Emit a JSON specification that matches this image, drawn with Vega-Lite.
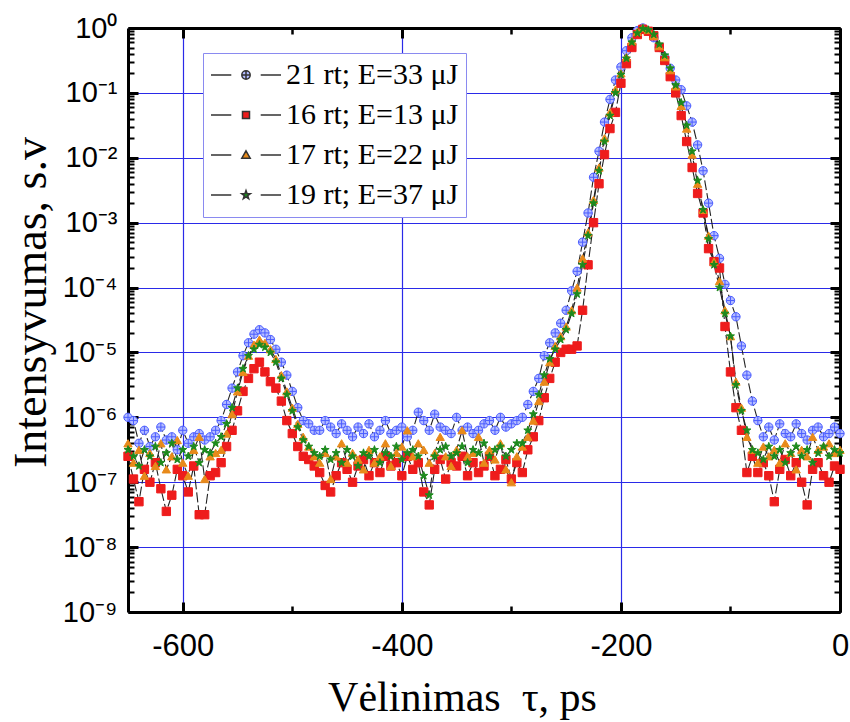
{
"$schema":"https://vega.github.io/schema/vega-lite/v6.json",
"autosize":{"type":"none"},
"padding":{"left":128,"top":28,"right":10,"bottom":110},
"width":712,"height":584,
"background":"white",
"config":{"view":{"stroke":null},"axis":{"labelColor":"black","titleColor":"black","labelFlush":false,"labelOverlap":false,"labelBound":false}},
"datasets":{
"series":[{"s":"a","label":"21 rt; E=33 μJ"},{"s":"b","label":"16 rt; E=13 μJ"},{"s":"c","label":"17 rt; E=22 μJ"},{"s":"d","label":"19 rt; E=37 μJ"}],
"pts":[
{"s":"a","x":-650,"y":1e-6},{"s":"a","x":-645,"y":8.91e-7},{"s":"a","x":-640,"y":3.98e-7},{"s":"a","x":-635,"y":6.31e-7},{"s":"a","x":-630,"y":3.55e-7},{"s":"a","x":-625,"y":5.01e-7},{"s":"a","x":-620,"y":7.08e-7},{"s":"a","x":-615,"y":4.47e-7},{"s":"a","x":-610,"y":5.01e-7},{"s":"a","x":-605,"y":3.16e-7},{"s":"a","x":-600,"y":6.31e-7},{"s":"a","x":-595,"y":3.98e-7},{"s":"a","x":-590,"y":5.01e-7},{"s":"a","x":-585,"y":5.62e-7},{"s":"a","x":-580,"y":4.47e-7},{"s":"a","x":-575,"y":5.01e-7},{"s":"a","x":-570,"y":6.31e-7},{"s":"a","x":-565,"y":8.91e-7},{"s":"a","x":-560,"y":1.58e-6},{"s":"a","x":-555,"y":2.82e-6},{"s":"a","x":-550,"y":5.01e-6},{"s":"a","x":-545,"y":8.91e-6},{"s":"a","x":-540,"y":1.41e-5},{"s":"a","x":-535,"y":1.91e-5},{"s":"a","x":-530,"y":2.24e-5},{"s":"a","x":-525,"y":2e-5},{"s":"a","x":-520,"y":1.58e-5},{"s":"a","x":-515,"y":1.12e-5},{"s":"a","x":-510,"y":7.08e-6},{"s":"a","x":-505,"y":4.47e-6},{"s":"a","x":-500,"y":2.51e-6},{"s":"a","x":-495,"y":1.41e-6},{"s":"a","x":-490,"y":8.91e-7},{"s":"a","x":-485,"y":7.94e-7},{"s":"a","x":-480,"y":6.31e-7},{"s":"a","x":-475,"y":6.31e-7},{"s":"a","x":-470,"y":8.91e-7},{"s":"a","x":-465,"y":7.08e-7},{"s":"a","x":-460,"y":5.62e-7},{"s":"a","x":-455,"y":7.94e-7},{"s":"a","x":-450,"y":6.31e-7},{"s":"a","x":-445,"y":5.01e-7},{"s":"a","x":-440,"y":7.08e-7},{"s":"a","x":-435,"y":5.62e-7},{"s":"a","x":-430,"y":7.94e-7},{"s":"a","x":-425,"y":5.01e-7},{"s":"a","x":-420,"y":6.31e-7},{"s":"a","x":-415,"y":8.91e-7},{"s":"a","x":-410,"y":5.62e-7},{"s":"a","x":-405,"y":6.31e-7},{"s":"a","x":-400,"y":7.08e-7},{"s":"a","x":-395,"y":5.01e-7},{"s":"a","x":-390,"y":6.31e-7},{"s":"a","x":-385,"y":1.2e-6},{"s":"a","x":-380,"y":8.91e-7},{"s":"a","x":-375,"y":6.31e-7},{"s":"a","x":-370,"y":1.12e-6},{"s":"a","x":-365,"y":7.08e-7},{"s":"a","x":-360,"y":6.31e-7},{"s":"a","x":-355,"y":5.62e-7},{"s":"a","x":-350,"y":1e-6},{"s":"a","x":-345,"y":6.31e-7},{"s":"a","x":-340,"y":7.08e-7},{"s":"a","x":-335,"y":5.62e-7},{"s":"a","x":-330,"y":6.31e-7},{"s":"a","x":-325,"y":7.94e-7},{"s":"a","x":-320,"y":8.91e-7},{"s":"a","x":-315,"y":6.31e-7},{"s":"a","x":-310,"y":1e-6},{"s":"a","x":-305,"y":7.08e-7},{"s":"a","x":-300,"y":7.94e-7},{"s":"a","x":-295,"y":8.91e-7},{"s":"a","x":-290,"y":1e-6},{"s":"a","x":-285,"y":1.58e-6},{"s":"a","x":-280,"y":2.51e-6},{"s":"a","x":-275,"y":3.98e-6},{"s":"a","x":-270,"y":8.91e-6},{"s":"a","x":-265,"y":1.41e-5},{"s":"a","x":-260,"y":2e-5},{"s":"a","x":-255,"y":2.82e-5},{"s":"a","x":-250,"y":4.47e-5},{"s":"a","x":-245,"y":8.91e-5},{"s":"a","x":-240,"y":1.78e-4},{"s":"a","x":-235,"y":5.01e-4},{"s":"a","x":-230,"y":1.41e-3},{"s":"a","x":-225,"y":5.01e-3},{"s":"a","x":-220,"y":1.26e-2},{"s":"a","x":-215,"y":3.55e-2},{"s":"a","x":-210,"y":7.94e-2},{"s":"a","x":-205,"y":0.158},{"s":"a","x":-200,"y":0.251},{"s":"a","x":-195,"y":0.447},{"s":"a","x":-190,"y":0.708},{"s":"a","x":-185,"y":0.912},{"s":"a","x":-180,"y":1},{"s":"a","x":-175,"y":0.891},{"s":"a","x":-170,"y":0.708},{"s":"a","x":-165,"y":0.501},{"s":"a","x":-160,"y":0.355},{"s":"a","x":-155,"y":0.24},{"s":"a","x":-150,"y":0.158},{"s":"a","x":-145,"y":0.112},{"s":"a","x":-140,"y":0.0631},{"s":"a","x":-135,"y":0.0355},{"s":"a","x":-130,"y":0.0158},{"s":"a","x":-125,"y":6.31e-3},{"s":"a","x":-120,"y":2e-3},{"s":"a","x":-115,"y":6.31e-4},{"s":"a","x":-110,"y":2.82e-4},{"s":"a","x":-105,"y":1.12e-4},{"s":"a","x":-100,"y":6.31e-5},{"s":"a","x":-95,"y":3.55e-5},{"s":"a","x":-90,"y":1.26e-5},{"s":"a","x":-85,"y":4.47e-6},{"s":"a","x":-80,"y":1.78e-6},{"s":"a","x":-75,"y":8.91e-7},{"s":"a","x":-70,"y":5.01e-7},{"s":"a","x":-65,"y":7.08e-7},{"s":"a","x":-60,"y":4.47e-7},{"s":"a","x":-55,"y":7.94e-7},{"s":"a","x":-50,"y":5.62e-7},{"s":"a","x":-45,"y":5.01e-7},{"s":"a","x":-40,"y":7.94e-7},{"s":"a","x":-35,"y":5.62e-7},{"s":"a","x":-30,"y":4.47e-7},{"s":"a","x":-25,"y":6.31e-7},{"s":"a","x":-20,"y":7.08e-7},{"s":"a","x":-15,"y":5.01e-7},{"s":"a","x":-10,"y":5.62e-7},{"s":"a","x":-5,"y":7.08e-7},{"s":"a","x":0,"y":5.62e-7},
{"s":"b","x":-650,"y":2.51e-7},{"s":"b","x":-645,"y":1.12e-7},{"s":"b","x":-640,"y":5.01e-8},{"s":"b","x":-635,"y":1.58e-7},{"s":"b","x":-630,"y":1e-7},{"s":"b","x":-625,"y":2e-7},{"s":"b","x":-620,"y":7.94e-8},{"s":"b","x":-615,"y":3.55e-8},{"s":"b","x":-610,"y":6.31e-8},{"s":"b","x":-605,"y":1.58e-7},{"s":"b","x":-600,"y":1.26e-7},{"s":"b","x":-595,"y":7.08e-8},{"s":"b","x":-590,"y":1.78e-7},{"s":"b","x":-585,"y":3.16e-8},{"s":"b","x":-580,"y":3.16e-8},{"s":"b","x":-575,"y":1.26e-7},{"s":"b","x":-570,"y":1.41e-7},{"s":"b","x":-565,"y":2e-7},{"s":"b","x":-560,"y":3.55e-7},{"s":"b","x":-555,"y":6.31e-7},{"s":"b","x":-550,"y":1.26e-6},{"s":"b","x":-545,"y":2.51e-6},{"s":"b","x":-540,"y":3.98e-6},{"s":"b","x":-535,"y":5.62e-6},{"s":"b","x":-530,"y":7.08e-6},{"s":"b","x":-525,"y":5.01e-6},{"s":"b","x":-520,"y":3.55e-6},{"s":"b","x":-515,"y":2.82e-6},{"s":"b","x":-510,"y":1.78e-6},{"s":"b","x":-505,"y":8.91e-7},{"s":"b","x":-500,"y":5.62e-7},{"s":"b","x":-495,"y":3.55e-7},{"s":"b","x":-490,"y":2.51e-7},{"s":"b","x":-485,"y":2.24e-7},{"s":"b","x":-480,"y":1.78e-7},{"s":"b","x":-475,"y":1.41e-7},{"s":"b","x":-470,"y":8.91e-8},{"s":"b","x":-465,"y":7.08e-8},{"s":"b","x":-460,"y":1.26e-7},{"s":"b","x":-455,"y":2e-7},{"s":"b","x":-450,"y":1.58e-7},{"s":"b","x":-445,"y":1e-7},{"s":"b","x":-440,"y":1.78e-7},{"s":"b","x":-435,"y":2.24e-7},{"s":"b","x":-430,"y":1.26e-7},{"s":"b","x":-425,"y":2e-7},{"s":"b","x":-420,"y":1.41e-7},{"s":"b","x":-415,"y":2.51e-7},{"s":"b","x":-410,"y":1.78e-7},{"s":"b","x":-405,"y":2e-7},{"s":"b","x":-400,"y":1.26e-7},{"s":"b","x":-395,"y":2.51e-7},{"s":"b","x":-390,"y":1.58e-7},{"s":"b","x":-385,"y":2e-7},{"s":"b","x":-380,"y":7.08e-8},{"s":"b","x":-375,"y":4.47e-8},{"s":"b","x":-370,"y":1.58e-7},{"s":"b","x":-365,"y":2.24e-7},{"s":"b","x":-360,"y":1.12e-7},{"s":"b","x":-355,"y":2e-7},{"s":"b","x":-350,"y":1.78e-7},{"s":"b","x":-345,"y":2.51e-7},{"s":"b","x":-340,"y":1.26e-7},{"s":"b","x":-335,"y":2e-7},{"s":"b","x":-330,"y":1.41e-7},{"s":"b","x":-325,"y":1.78e-7},{"s":"b","x":-320,"y":2.51e-7},{"s":"b","x":-315,"y":1.26e-7},{"s":"b","x":-310,"y":1.58e-7},{"s":"b","x":-305,"y":2.24e-7},{"s":"b","x":-300,"y":1.12e-7},{"s":"b","x":-295,"y":2e-7},{"s":"b","x":-290,"y":1.41e-7},{"s":"b","x":-285,"y":3.16e-7},{"s":"b","x":-280,"y":5.01e-7},{"s":"b","x":-275,"y":8.91e-7},{"s":"b","x":-270,"y":2e-6},{"s":"b","x":-265,"y":3.98e-6},{"s":"b","x":-260,"y":7.08e-6},{"s":"b","x":-255,"y":1e-5},{"s":"b","x":-250,"y":1.12e-5},{"s":"b","x":-245,"y":1.12e-5},{"s":"b","x":-240,"y":1.26e-5},{"s":"b","x":-235,"y":4.47e-5},{"s":"b","x":-230,"y":2.24e-4},{"s":"b","x":-225,"y":1e-3},{"s":"b","x":-220,"y":3.98e-3},{"s":"b","x":-215,"y":1.12e-2},{"s":"b","x":-210,"y":2.82e-2},{"s":"b","x":-205,"y":5.01e-2},{"s":"b","x":-200,"y":0.141},{"s":"b","x":-195,"y":0.282},{"s":"b","x":-190,"y":0.501},{"s":"b","x":-185,"y":0.794},{"s":"b","x":-180,"y":0.955},{"s":"b","x":-175,"y":0.891},{"s":"b","x":-170,"y":0.759},{"s":"b","x":-165,"y":0.501},{"s":"b","x":-160,"y":0.316},{"s":"b","x":-155,"y":0.178},{"s":"b","x":-150,"y":0.1},{"s":"b","x":-145,"y":0.0447},{"s":"b","x":-140,"y":0.0178},{"s":"b","x":-135,"y":7.08e-3},{"s":"b","x":-130,"y":2.82e-3},{"s":"b","x":-125,"y":1.41e-3},{"s":"b","x":-120,"y":3.98e-4},{"s":"b","x":-115,"y":2.51e-4},{"s":"b","x":-110,"y":2e-4},{"s":"b","x":-105,"y":2.51e-5},{"s":"b","x":-100,"y":5.01e-6},{"s":"b","x":-95,"y":1.41e-6},{"s":"b","x":-90,"y":6.31e-7},{"s":"b","x":-85,"y":1.41e-7},{"s":"b","x":-80,"y":2.51e-7},{"s":"b","x":-75,"y":1.41e-7},{"s":"b","x":-70,"y":2e-7},{"s":"b","x":-65,"y":1.26e-7},{"s":"b","x":-60,"y":5.01e-8},{"s":"b","x":-55,"y":1.58e-7},{"s":"b","x":-50,"y":2.24e-7},{"s":"b","x":-45,"y":1.26e-7},{"s":"b","x":-40,"y":2e-7},{"s":"b","x":-35,"y":1e-7},{"s":"b","x":-30,"y":4.47e-8},{"s":"b","x":-25,"y":1.58e-7},{"s":"b","x":-20,"y":2e-7},{"s":"b","x":-15,"y":1.26e-7},{"s":"b","x":-10,"y":1e-7},{"s":"b","x":-5,"y":1.78e-7},{"s":"b","x":0,"y":1.58e-7},
{"s":"c","x":-650,"y":3.98e-7},{"s":"c","x":-645,"y":2e-7},{"s":"c","x":-640,"y":3.16e-7},{"s":"c","x":-635,"y":1.26e-7},{"s":"c","x":-630,"y":2.82e-7},{"s":"c","x":-625,"y":1.78e-7},{"s":"c","x":-620,"y":3.98e-7},{"s":"c","x":-615,"y":1.58e-7},{"s":"c","x":-610,"y":2.51e-7},{"s":"c","x":-605,"y":4.47e-7},{"s":"c","x":-600,"y":2e-7},{"s":"c","x":-595,"y":1.26e-7},{"s":"c","x":-590,"y":3.16e-7},{"s":"c","x":-585,"y":5.01e-7},{"s":"c","x":-580,"y":1.12e-7},{"s":"c","x":-575,"y":2.51e-7},{"s":"c","x":-570,"y":2.82e-7},{"s":"c","x":-565,"y":3.16e-7},{"s":"c","x":-560,"y":5.62e-7},{"s":"c","x":-555,"y":1.12e-6},{"s":"c","x":-550,"y":2.51e-6},{"s":"c","x":-545,"y":5.01e-6},{"s":"c","x":-540,"y":8.91e-6},{"s":"c","x":-535,"y":1.32e-5},{"s":"c","x":-530,"y":1.58e-5},{"s":"c","x":-525,"y":1.41e-5},{"s":"c","x":-520,"y":1.12e-5},{"s":"c","x":-515,"y":7.94e-6},{"s":"c","x":-510,"y":4.47e-6},{"s":"c","x":-505,"y":2.51e-6},{"s":"c","x":-500,"y":1.41e-6},{"s":"c","x":-495,"y":7.94e-7},{"s":"c","x":-490,"y":5.01e-7},{"s":"c","x":-485,"y":3.55e-7},{"s":"c","x":-480,"y":2.51e-7},{"s":"c","x":-475,"y":2e-7},{"s":"c","x":-470,"y":2.82e-7},{"s":"c","x":-465,"y":1.12e-7},{"s":"c","x":-460,"y":2.51e-7},{"s":"c","x":-455,"y":3.98e-7},{"s":"c","x":-450,"y":2e-7},{"s":"c","x":-445,"y":2.82e-7},{"s":"c","x":-440,"y":2.24e-7},{"s":"c","x":-435,"y":1.58e-7},{"s":"c","x":-430,"y":3.16e-7},{"s":"c","x":-425,"y":2e-7},{"s":"c","x":-420,"y":2.51e-7},{"s":"c","x":-415,"y":3.98e-7},{"s":"c","x":-410,"y":1.78e-7},{"s":"c","x":-405,"y":2.82e-7},{"s":"c","x":-400,"y":3.55e-7},{"s":"c","x":-395,"y":6.31e-7},{"s":"c","x":-390,"y":2.51e-7},{"s":"c","x":-385,"y":3.98e-7},{"s":"c","x":-380,"y":3.16e-7},{"s":"c","x":-375,"y":2e-7},{"s":"c","x":-370,"y":2.82e-7},{"s":"c","x":-365,"y":5.01e-7},{"s":"c","x":-360,"y":2.51e-7},{"s":"c","x":-355,"y":1.78e-7},{"s":"c","x":-350,"y":3.16e-7},{"s":"c","x":-345,"y":6.31e-7},{"s":"c","x":-340,"y":2.51e-7},{"s":"c","x":-335,"y":2.82e-7},{"s":"c","x":-330,"y":5.01e-7},{"s":"c","x":-325,"y":2e-7},{"s":"c","x":-320,"y":3.16e-7},{"s":"c","x":-315,"y":2.24e-7},{"s":"c","x":-310,"y":3.98e-7},{"s":"c","x":-305,"y":1.58e-7},{"s":"c","x":-300,"y":1e-7},{"s":"c","x":-295,"y":2.51e-7},{"s":"c","x":-290,"y":3.55e-7},{"s":"c","x":-285,"y":5.01e-7},{"s":"c","x":-280,"y":8.91e-7},{"s":"c","x":-275,"y":1.78e-6},{"s":"c","x":-270,"y":3.55e-6},{"s":"c","x":-265,"y":7.08e-6},{"s":"c","x":-260,"y":1.26e-5},{"s":"c","x":-255,"y":1.78e-5},{"s":"c","x":-250,"y":2.51e-5},{"s":"c","x":-245,"y":4.47e-5},{"s":"c","x":-240,"y":1e-4},{"s":"c","x":-235,"y":2.82e-4},{"s":"c","x":-230,"y":7.08e-4},{"s":"c","x":-225,"y":2.24e-3},{"s":"c","x":-220,"y":7.08e-3},{"s":"c","x":-215,"y":2e-2},{"s":"c","x":-210,"y":5.01e-2},{"s":"c","x":-205,"y":0.112},{"s":"c","x":-200,"y":0.2},{"s":"c","x":-195,"y":0.355},{"s":"c","x":-190,"y":0.631},{"s":"c","x":-185,"y":0.871},{"s":"c","x":-180,"y":1},{"s":"c","x":-175,"y":0.933},{"s":"c","x":-170,"y":0.759},{"s":"c","x":-165,"y":0.525},{"s":"c","x":-160,"y":0.355},{"s":"c","x":-155,"y":0.224},{"s":"c","x":-150,"y":0.126},{"s":"c","x":-145,"y":0.0631},{"s":"c","x":-140,"y":0.0282},{"s":"c","x":-135,"y":0.0112},{"s":"c","x":-130,"y":3.98e-3},{"s":"c","x":-125,"y":1.58e-3},{"s":"c","x":-120,"y":6.31e-4},{"s":"c","x":-115,"y":2.51e-4},{"s":"c","x":-110,"y":1.26e-4},{"s":"c","x":-105,"y":4.47e-5},{"s":"c","x":-100,"y":1.78e-5},{"s":"c","x":-95,"y":3.55e-6},{"s":"c","x":-90,"y":1.41e-6},{"s":"c","x":-85,"y":5.01e-7},{"s":"c","x":-80,"y":3.16e-7},{"s":"c","x":-75,"y":2e-7},{"s":"c","x":-70,"y":3.55e-7},{"s":"c","x":-65,"y":2.51e-7},{"s":"c","x":-60,"y":3.16e-7},{"s":"c","x":-55,"y":2e-7},{"s":"c","x":-50,"y":3.98e-7},{"s":"c","x":-45,"y":2.82e-7},{"s":"c","x":-40,"y":1.58e-7},{"s":"c","x":-35,"y":3.16e-7},{"s":"c","x":-30,"y":2.51e-7},{"s":"c","x":-25,"y":5.01e-7},{"s":"c","x":-20,"y":3.16e-7},{"s":"c","x":-15,"y":3.55e-7},{"s":"c","x":-10,"y":3.98e-7},{"s":"c","x":-5,"y":2.82e-7},{"s":"c","x":0,"y":3.16e-7},
{"s":"d","x":-650,"y":3.16e-7},{"s":"d","x":-645,"y":2.51e-7},{"s":"d","x":-640,"y":1.78e-7},{"s":"d","x":-635,"y":3.16e-7},{"s":"d","x":-630,"y":2.51e-7},{"s":"d","x":-625,"y":3.55e-7},{"s":"d","x":-620,"y":2e-7},{"s":"d","x":-615,"y":2.82e-7},{"s":"d","x":-610,"y":3.98e-7},{"s":"d","x":-605,"y":2.24e-7},{"s":"d","x":-600,"y":3.16e-7},{"s":"d","x":-595,"y":2.51e-7},{"s":"d","x":-590,"y":3.55e-7},{"s":"d","x":-585,"y":2e-7},{"s":"d","x":-580,"y":3.16e-7},{"s":"d","x":-575,"y":2.82e-7},{"s":"d","x":-570,"y":3.98e-7},{"s":"d","x":-565,"y":5.01e-7},{"s":"d","x":-560,"y":7.94e-7},{"s":"d","x":-555,"y":1.41e-6},{"s":"d","x":-550,"y":2.82e-6},{"s":"d","x":-545,"y":5.62e-6},{"s":"d","x":-540,"y":8.91e-6},{"s":"d","x":-535,"y":1.12e-5},{"s":"d","x":-530,"y":1.32e-5},{"s":"d","x":-525,"y":1.2e-5},{"s":"d","x":-520,"y":1e-5},{"s":"d","x":-515,"y":7.08e-6},{"s":"d","x":-510,"y":3.98e-6},{"s":"d","x":-505,"y":2.24e-6},{"s":"d","x":-500,"y":1.26e-6},{"s":"d","x":-495,"y":7.08e-7},{"s":"d","x":-490,"y":4.47e-7},{"s":"d","x":-485,"y":3.55e-7},{"s":"d","x":-480,"y":2.82e-7},{"s":"d","x":-475,"y":2.51e-7},{"s":"d","x":-470,"y":3.16e-7},{"s":"d","x":-465,"y":2.24e-7},{"s":"d","x":-460,"y":2.82e-7},{"s":"d","x":-455,"y":2e-7},{"s":"d","x":-450,"y":3.16e-7},{"s":"d","x":-445,"y":2.51e-7},{"s":"d","x":-440,"y":1.78e-7},{"s":"d","x":-435,"y":2.82e-7},{"s":"d","x":-430,"y":2.51e-7},{"s":"d","x":-425,"y":3.16e-7},{"s":"d","x":-420,"y":2e-7},{"s":"d","x":-415,"y":2.82e-7},{"s":"d","x":-410,"y":2.51e-7},{"s":"d","x":-405,"y":3.55e-7},{"s":"d","x":-400,"y":2.24e-7},{"s":"d","x":-395,"y":2.82e-7},{"s":"d","x":-390,"y":3.16e-7},{"s":"d","x":-385,"y":2.51e-7},{"s":"d","x":-380,"y":1.26e-7},{"s":"d","x":-375,"y":6.31e-8},{"s":"d","x":-370,"y":2.51e-7},{"s":"d","x":-365,"y":3.16e-7},{"s":"d","x":-360,"y":3.55e-7},{"s":"d","x":-355,"y":2.51e-7},{"s":"d","x":-350,"y":2.82e-7},{"s":"d","x":-345,"y":3.55e-7},{"s":"d","x":-340,"y":2e-7},{"s":"d","x":-335,"y":3.16e-7},{"s":"d","x":-330,"y":2.82e-7},{"s":"d","x":-325,"y":3.98e-7},{"s":"d","x":-320,"y":2.51e-7},{"s":"d","x":-315,"y":3.16e-7},{"s":"d","x":-310,"y":3.55e-7},{"s":"d","x":-305,"y":2.51e-7},{"s":"d","x":-300,"y":3.16e-7},{"s":"d","x":-295,"y":3.98e-7},{"s":"d","x":-290,"y":3.98e-7},{"s":"d","x":-285,"y":6.31e-7},{"s":"d","x":-280,"y":1.12e-6},{"s":"d","x":-275,"y":2.24e-6},{"s":"d","x":-270,"y":4.47e-6},{"s":"d","x":-265,"y":7.94e-6},{"s":"d","x":-260,"y":1.12e-5},{"s":"d","x":-255,"y":1.58e-5},{"s":"d","x":-250,"y":2.24e-5},{"s":"d","x":-245,"y":3.98e-5},{"s":"d","x":-240,"y":7.94e-5},{"s":"d","x":-235,"y":2.24e-4},{"s":"d","x":-230,"y":6.31e-4},{"s":"d","x":-225,"y":2e-3},{"s":"d","x":-220,"y":6.31e-3},{"s":"d","x":-215,"y":1.78e-2},{"s":"d","x":-210,"y":4.47e-2},{"s":"d","x":-205,"y":0.1},{"s":"d","x":-200,"y":0.191},{"s":"d","x":-195,"y":0.339},{"s":"d","x":-190,"y":0.603},{"s":"d","x":-185,"y":0.832},{"s":"d","x":-180,"y":0.977},{"s":"d","x":-175,"y":0.933},{"s":"d","x":-170,"y":0.794},{"s":"d","x":-165,"y":0.562},{"s":"d","x":-160,"y":0.38},{"s":"d","x":-155,"y":0.24},{"s":"d","x":-150,"y":0.132},{"s":"d","x":-145,"y":0.0708},{"s":"d","x":-140,"y":0.0316},{"s":"d","x":-135,"y":0.0126},{"s":"d","x":-130,"y":4.47e-3},{"s":"d","x":-125,"y":1.58e-3},{"s":"d","x":-120,"y":5.62e-4},{"s":"d","x":-115,"y":2.24e-4},{"s":"d","x":-110,"y":1e-4},{"s":"d","x":-105,"y":3.98e-5},{"s":"d","x":-100,"y":1.78e-5},{"s":"d","x":-95,"y":3.16e-6},{"s":"d","x":-90,"y":1.26e-6},{"s":"d","x":-85,"y":6.31e-7},{"s":"d","x":-80,"y":3.16e-7},{"s":"d","x":-75,"y":2.82e-7},{"s":"d","x":-70,"y":2.24e-7},{"s":"d","x":-65,"y":3.55e-7},{"s":"d","x":-60,"y":2.51e-7},{"s":"d","x":-55,"y":3.16e-7},{"s":"d","x":-50,"y":2e-7},{"s":"d","x":-45,"y":2.82e-7},{"s":"d","x":-40,"y":3.55e-7},{"s":"d","x":-35,"y":2.51e-7},{"s":"d","x":-30,"y":3.16e-7},{"s":"d","x":-25,"y":2e-7},{"s":"d","x":-20,"y":2.82e-7},{"s":"d","x":-15,"y":3.55e-7},{"s":"d","x":-10,"y":2.51e-7},{"s":"d","x":-5,"y":3.16e-7},{"s":"d","x":0,"y":2.82e-7}
]},
"data":{"name":"pts"},
"transform":[{"lookup":"s","from":{"data":{"name":"series"},"key":"s","fields":["label"]}}],
"resolve":{"scale":{"shape":"independent","fill":"independent","stroke":"independent"},"axis":{"x":"independent","y":"independent"}},
"layer":[
{"mark":{"type":"line","stroke":"#222222","strokeWidth":1.1,"strokeDash":[10,3]},
 "encoding":{
  "detail":{"field":"s","type":"nominal"},
  "x":{"field":"x","type":"quantitative","scale":{"domain":[-650,0],"nice":false,"zero":false},
   "axis":{"orient":"bottom","values":[-600,-400,-200,0],"grid":true,"gridColor":"#2a2ae8","gridWidth":1.2,"tickSize":-10,"tickWidth":3,"tickColor":"black","domain":true,"domainWidth":3,"domainColor":"black","labelFont":"Liberation Sans","labelFontSize":31,"labelPadding":29,"labelExpr":"datum.value == 0 ? '0' : '-' + abs(datum.value)","title":"Vėlinimas\u00a0 τ, ps","titleFont":"Liberation Serif","titleFontSize":42,"titleFontWeight":"normal","titleX":334,"titleY":98,"titleBaseline":"alphabetic"}},
  "y":{"field":"y","type":"quantitative","scale":{"type":"log","domain":[1e-9,1],"nice":false},
   "axis":{"orient":"left","values":[1e-9,1e-8,1e-7,1e-6,1e-5,1e-4,0.001,0.01,0.1,1],"grid":true,"gridColor":"#2a2ae8","gridWidth":1.2,"tickSize":-10,"tickWidth":3,"tickColor":"black","domain":true,"domainWidth":3,"domainColor":"black","labelFont":"Liberation Sans","labelFontSize":29,"labelPadding":21,"labelExpr":"'10' + ['⁰','⁻¹','⁻²','⁻³','⁻⁴','⁻⁵','⁻⁶','⁻⁷','⁻⁸','⁻⁹'][round(-log(datum.value)/LN10)]","title":"Intensyvumas, s.v","titleFont":"Liberation Serif","titleFontSize":46,"titleFontWeight":"normal","titleX":-83,"titleY":274,"titleBaseline":"alphabetic","titleAngle":270}}
 }},
{"mark":{"type":"point","filled":true,"opacity":1,"size":70,"strokeWidth":1},
 "encoding":{
  "x":{"field":"x","type":"quantitative","scale":{"domain":[-650,0],"nice":false,"zero":false},
   "axis":{"orient":"top","values":[-600,-400,-200,0],"grid":false,"labels":false,"tickSize":-10,"tickWidth":3,"tickColor":"black","domain":true,"domainWidth":3,"domainColor":"black","title":null}},
  "y":{"field":"y","type":"quantitative","scale":{"type":"log","domain":[1e-9,1],"nice":false},
   "axis":{"orient":"right","values":[1e-9,1e-8,1e-7,1e-6,1e-5,1e-4,0.001,0.01,0.1,1],"grid":false,"labels":false,"tickSize":-10,"tickWidth":3,"tickColor":"black","domain":true,"domainWidth":3,"domainColor":"black","title":null}},
  "shape":{"field":"label","type":"nominal","scale":{"domain":["21 rt; E=33 μJ","16 rt; E=13 μJ","17 rt; E=22 μJ","19 rt; E=37 μJ"],"range":["M1,0A1,1,0,1,1,-1,0A1,1,0,1,1,1,0ZM-1,0L1,0M0,-1L0,1","square","triangle-up","M0,-1L0.235,-0.324L0.951,-0.309L0.38,0.124L0.588,0.809L0,0.4L-0.588,0.809L-0.38,0.124L-0.951,-0.309L-0.235,-0.324Z"]},"legend":null},
  "fill":{"field":"label","type":"nominal","scale":{"domain":["21 rt; E=33 μJ","16 rt; E=13 μJ","17 rt; E=22 μJ","19 rt; E=37 μJ"],"range":["#b4bcff","#ee1c1c","#e88a1a","#1d8a1d"]},"legend":null},
  "stroke":{"field":"label","type":"nominal","scale":{"domain":["21 rt; E=33 μJ","16 rt; E=13 μJ","17 rt; E=22 μJ","19 rt; E=37 μJ"],"range":["#4a5cff","#ee1c1c","#e88a1a","#1d8a1d"]},"legend":null}
 }},
{"transform":[{"filter":"false"}],
 "mark":{"type":"point","filled":true,"opacity":1,"strokeWidth":1.5},
 "encoding":{
  "x":{"field":"x","type":"quantitative","scale":{"domain":[-650,0],"nice":false,"zero":false},
   "axis":{"orient":"bottom","values":[-500,-300,-100],"grid":false,"labels":false,"tickSize":-6,"tickWidth":2.5,"tickColor":"black","domain":false,"title":null}},
  "y":{"field":"y","type":"quantitative","scale":{"type":"log","domain":[1e-9,1],"nice":false},
   "axis":{"orient":"left","values":[2e-9,3e-9,4e-9,5e-9,6e-9,7e-9,8e-9,9e-9,2e-8,3e-8,4e-8,5e-8,6e-8,7e-8,8e-8,9e-8,2e-7,3e-7,4e-7,5e-7,6e-7,7e-7,8e-7,9e-7,2e-6,3e-6,4e-6,5e-6,6e-6,7e-6,8e-6,9e-6,2e-5,3e-5,4e-5,5e-5,6e-5,7e-5,8e-5,9e-5,2e-4,3e-4,4e-4,5e-4,6e-4,7e-4,8e-4,9e-4,0.002,0.003,0.004,0.005,0.006,0.007,0.008,0.009,0.02,0.03,0.04,0.05,0.06,0.07,0.08,0.09,0.2,0.3,0.4,0.5,0.6,0.7,0.8,0.9],"grid":false,"labels":false,"tickSize":-6,"tickWidth":2,"tickColor":"black","domain":false,"title":null}},
  "shape":{"field":"label","type":"nominal","scale":{"domain":["21 rt; E=33 μJ","16 rt; E=13 μJ","17 rt; E=22 μJ","19 rt; E=37 μJ"],"range":["M-1,0H-0.42M0.42,0H1M0.12,0A0.12,0.12,0,1,1,-0.12,0A0.12,0.12,0,1,1,0.12,0ZM-0.12,0H0.12M0,-0.12V0.12","M-1,0H-0.42M0.42,0H1M-0.1,-0.1H0.1V0.1H-0.1Z","M-1,0H-0.42M0.42,0H1M0,-0.12L0.12,0.09L-0.12,0.09Z","M-1,0H-0.42M0.42,0H1M0,-0.13L0.03,-0.042L0.124,-0.04L0.049,0.016L0.076,0.105L0,0.052L-0.076,0.105L-0.049,0.016L-0.124,-0.04L-0.03,-0.042Z"]},
   "legend":{"orient":"none","legendX":75,"legendY":25,"title":null,"symbolSize":4900,"symbolStrokeWidth":1.5,"labelFont":"Liberation Serif","labelFontSize":30,"labelColor":"black","labelOffset":4,"labelLimit":400,"padding":7,"rowPadding":10,"clipHeight":30,"symbolOffset":0,"strokeColor":"#8a8af0","fillColor":"white"}},
  "fill":{"field":"label","type":"nominal","scale":{"domain":["21 rt; E=33 μJ","16 rt; E=13 μJ","17 rt; E=22 μJ","19 rt; E=37 μJ"],"range":["#b4bcff","#ee1c1c","#e88a1a","#1d8a1d"]},
   "legend":{"orient":"none","legendX":75,"legendY":25,"title":null,"symbolSize":4900,"symbolStrokeWidth":1.5,"labelFont":"Liberation Serif","labelFontSize":30,"labelColor":"black","labelOffset":4,"labelLimit":400,"padding":7,"rowPadding":10,"clipHeight":30,"symbolOffset":0,"strokeColor":"#8a8af0","fillColor":"white"}},
  "stroke":{"field":"label","type":"nominal","scale":{"domain":["21 rt; E=33 μJ","16 rt; E=13 μJ","17 rt; E=22 μJ","19 rt; E=37 μJ"],"range":["#333333","#333333","#333333","#333333"]},
   "legend":{"orient":"none","legendX":75,"legendY":25,"title":null,"symbolSize":4900,"symbolStrokeWidth":1.5,"labelFont":"Liberation Serif","labelFontSize":30,"labelColor":"black","labelOffset":4,"labelLimit":400,"padding":7,"rowPadding":10,"clipHeight":30,"symbolOffset":0,"strokeColor":"#8a8af0","fillColor":"white"}}
 }},
{"transform":[{"filter":"false"}],
 "mark":{"type":"point","opacity":1},
 "encoding":{
  "x":{"field":"x","type":"quantitative","scale":{"domain":[-650,0],"nice":false,"zero":false},
   "axis":{"orient":"top","values":[-500,-300,-100],"grid":false,"labels":false,"tickSize":-6,"tickWidth":2.5,"tickColor":"black","domain":false,"title":null}},
  "y":{"field":"y","type":"quantitative","scale":{"type":"log","domain":[1e-9,1],"nice":false},
   "axis":{"orient":"right","values":[2e-9,3e-9,4e-9,5e-9,6e-9,7e-9,8e-9,9e-9,2e-8,3e-8,4e-8,5e-8,6e-8,7e-8,8e-8,9e-8,2e-7,3e-7,4e-7,5e-7,6e-7,7e-7,8e-7,9e-7,2e-6,3e-6,4e-6,5e-6,6e-6,7e-6,8e-6,9e-6,2e-5,3e-5,4e-5,5e-5,6e-5,7e-5,8e-5,9e-5,2e-4,3e-4,4e-4,5e-4,6e-4,7e-4,8e-4,9e-4,0.002,0.003,0.004,0.005,0.006,0.007,0.008,0.009,0.02,0.03,0.04,0.05,0.06,0.07,0.08,0.09,0.2,0.3,0.4,0.5,0.6,0.7,0.8,0.9],"grid":false,"labels":false,"tickSize":-6,"tickWidth":2,"tickColor":"black","domain":false,"title":null}}
 }}
]
}
